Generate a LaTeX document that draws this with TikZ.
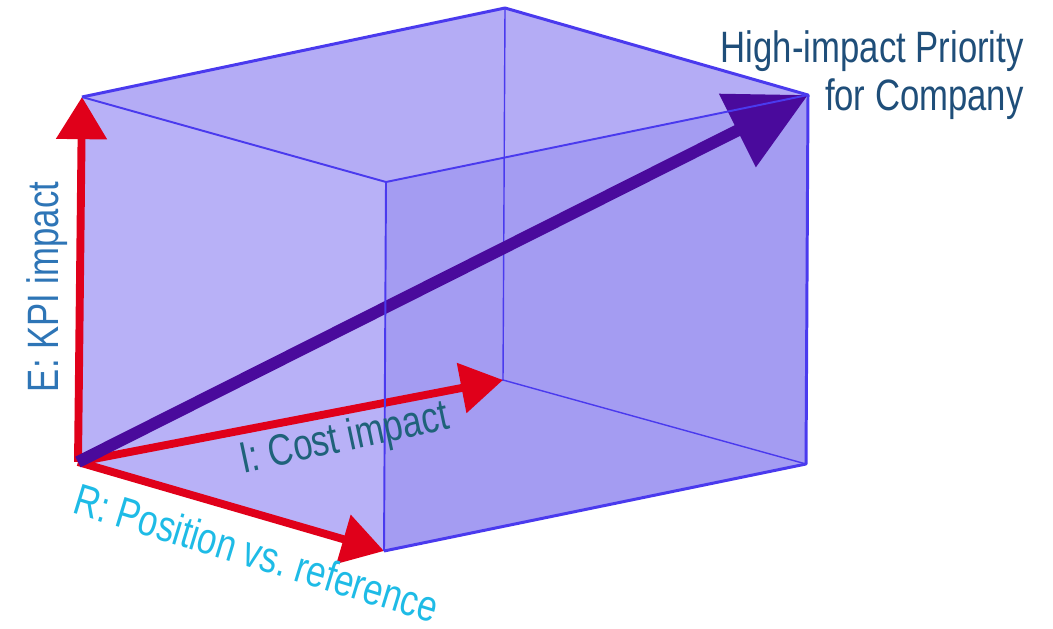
\documentclass[tikz,border=0pt]{standalone}
\usepackage{fontspec}
\setmainfont{Liberation Sans}[FakeStretch=0.79]
\usetikzlibrary{arrows.meta}
\frenchspacing
\definecolor{edgeblue}{RGB}{74,58,238}
\definecolor{sideface}{RGB}{184,177,247}
\definecolor{topface}{RGB}{180,172,245}
\definecolor{frontface}{RGB}{164,156,242}
\definecolor{axisred}{RGB}{224,0,26}
\definecolor{goalpurple}{RGB}{74,10,156}
\definecolor{ecolor}{RGB}{46,117,182}
\definecolor{icolor}{RGB}{31,98,122}
\definecolor{rcolor}{RGB}{30,187,230}
\definecolor{goalcolor}{RGB}{31,78,121}

\begin{document}
\begin{tikzpicture}[x=0.02cm, y=-0.02cm,
  backedge/.style={draw=edgeblue, line width=0.8pt},
  frontedge/.style={draw=edgeblue, line width=1.1pt},
  rimedge/.style={draw=edgeblue, line width=1.7pt, line join=round},
  axisarrow/.style={draw=axisred, line width=4.5pt, -{Triangle[width=28pt, length=24pt]}},
  goalarrow/.style={draw=goalpurple, line width=6.8pt, -{Triangle[width=45pt, length=45pt]}},
  axistext/.style={font=\fontsize{25}{27.3}\selectfont, inner sep=0pt}]
\useasboundingbox (0, 0) rectangle (1053, 628);
% corners of the box
\coordinate (O) at (78, 462);
\coordinate (R) at (384, 551);
\coordinate (I) at (503, 380);
\coordinate (F) at (806, 464);
\coordinate (E) at (82, 97);
\coordinate (T) at (505, 8);
\coordinate (U) at (386, 182);
\coordinate (Q) at (808, 95);
% faces
\fill [sideface] (O) -- (E) -- (U) -- (R) -- cycle;
\fill [topface] (E) -- (T) -- (Q) -- (U) -- cycle;
\fill [frontface] (R) -- (U) -- (Q) -- (F) -- cycle;
\draw [backedge] (T) -- (I) -- (F);
\draw [backedge] (O) -- (I);
% arrows
\draw [axisarrow] (O) -- (E);
\draw [axisarrow] (O) -- (I);
\draw [axisarrow] (O) -- (R);
\draw [goalarrow] (O) -- (Q);
% visible edges
\draw [rimedge] (E) -- (T) -- (Q) -- (F) -- (R);
\draw [frontedge] (E) -- (U) -- (Q);
\draw [frontedge] (U) -- (R);
% labels
\node [axistext, text=ecolor, rotate=90, anchor=base] (elabel) at (58, 287) {E: KPI impact};
\node [axistext, text=icolor, rotate=12, anchor=base] (ilabel) at (347, 451) {I: Cost impact};
\node [axistext, text=rcolor, rotate=-17, anchor=base] (rlabel) at (252, 568) {R: Position vs. reference};
\node [axistext, text=goalcolor, align=right, anchor=north east] (goal) at (1024, 30) {High-impact Priority\\for Company};
\end{tikzpicture}
\end{document}
